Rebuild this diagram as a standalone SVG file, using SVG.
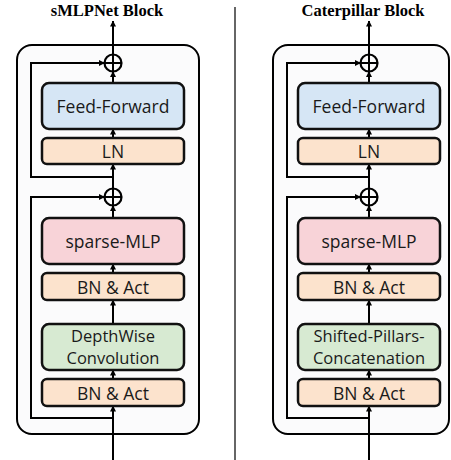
<svg xmlns="http://www.w3.org/2000/svg" width="451" height="460" viewBox="0 0 451 460">
<defs>
<marker id="ah" markerWidth="6" markerHeight="6" refX="5.5" refY="3" orient="auto" markerUnits="userSpaceOnUse">
<path d="M0,0 L6,3 L0,6 Z" fill="#000"/>
</marker>
<style>
.panel{fill:#fbfbfc;stroke:#000;stroke-width:2}
.box{stroke:#111;stroke-width:2.5}
.ff{fill:#d6e6f5}
.ln{fill:#fce3cd}
.mlp{fill:#f8d3d8}
.dw{fill:#d7ead2}
.t{font-family:"Open Sans","Noto Sans",sans-serif;font-size:17.5px;fill:#1a1a1a;text-anchor:middle;dominant-baseline:central}
.t2{font-size:16.5px}
.title{font-family:"Liberation Serif",serif;font-weight:bold;font-size:16.5px;fill:#000;text-anchor:middle}
.ln2{fill:none;stroke:#000;stroke-width:2}
.c{fill:none;stroke:#000;stroke-width:2.2}
</style>
</defs>
<rect width="451" height="460" fill="#fff"/>
<line x1="235" y1="7" x2="235" y2="460" stroke="#666" stroke-width="2"/>
<text class="title" x="107" y="15.5">sMLPNet Block</text>
<text class="title" x="363" y="15.5">Caterpillar Block</text>
<g id="panel-left"><rect class="panel" x="17" y="45" width="182" height="389" rx="15"/></g>
<g id="panel-right"><rect class="panel" x="273" y="45" width="176" height="389" rx="15"/></g>
<g id="connectors">
<line class="ln2" x1="113" y1="460" x2="113" y2="406" marker-end="url(#ah)"/>
<line class="ln2" x1="113" y1="379" x2="113" y2="370" marker-end="url(#ah)"/>
<line class="ln2" x1="113" y1="324" x2="113" y2="300" marker-end="url(#ah)"/>
<line class="ln2" x1="113" y1="273" x2="113" y2="264" marker-end="url(#ah)"/>
<line class="ln2" x1="113" y1="218" x2="113" y2="205.5" marker-end="url(#ah)"/>
<line class="ln2" x1="113" y1="188.5" x2="113" y2="164" marker-end="url(#ah)"/>
<line class="ln2" x1="113" y1="138" x2="113" y2="129" marker-end="url(#ah)"/>
<line class="ln2" x1="113" y1="83" x2="113" y2="71.5" marker-end="url(#ah)"/>
<line class="ln2" x1="113" y1="54.5" x2="113" y2="21" marker-end="url(#ah)"/>
<polyline class="ln2" points="113,177 31,177 31,63 104.5,63" marker-end="url(#ah)"/>
<polyline class="ln2" points="113,418 31,418 31,197 104.5,197" marker-end="url(#ah)"/>
<line class="ln2" x1="369" y1="460" x2="369" y2="406" marker-end="url(#ah)"/>
<line class="ln2" x1="369" y1="379" x2="369" y2="370" marker-end="url(#ah)"/>
<line class="ln2" x1="369" y1="324" x2="369" y2="300" marker-end="url(#ah)"/>
<line class="ln2" x1="369" y1="273" x2="369" y2="264" marker-end="url(#ah)"/>
<line class="ln2" x1="369" y1="218" x2="369" y2="205.5" marker-end="url(#ah)"/>
<line class="ln2" x1="369" y1="188.5" x2="369" y2="164" marker-end="url(#ah)"/>
<line class="ln2" x1="369" y1="138" x2="369" y2="129" marker-end="url(#ah)"/>
<line class="ln2" x1="369" y1="83" x2="369" y2="71.5" marker-end="url(#ah)"/>
<line class="ln2" x1="369" y1="54.5" x2="369" y2="21" marker-end="url(#ah)"/>
<polyline class="ln2" points="369,177 287,177 287,63 360.5,63" marker-end="url(#ah)"/>
<polyline class="ln2" points="369,418 287,418 287,197 360.5,197" marker-end="url(#ah)"/>
</g>
<g id="add1-left"><circle class="c" cx="113" cy="63" r="8.5"/><path class="ln2" d="M104.5,63 H121.5 M113,54.5 V71.5"/></g>
<g id="add2-left"><circle class="c" cx="113" cy="197" r="8.5"/><path class="ln2" d="M104.5,197 H121.5 M113,188.5 V205.5"/></g>
<g id="ff-left"><rect class="box ff" x="42" y="83" width="142" height="46" rx="7"/><text class="t" x="113" y="106">Feed-Forward</text></g>
<g id="ln-left"><rect class="box ln" x="42" y="138" width="142" height="26" rx="5"/><text class="t" x="113" y="151">LN</text></g>
<g id="smlp-left"><rect class="box mlp" x="42" y="218" width="142" height="46" rx="7"/><text class="t" x="113" y="241">sparse-MLP</text></g>
<g id="bn1-left"><rect class="box ln" x="42" y="273" width="142" height="27" rx="5"/><text class="t" x="113" y="286.5">BN &amp; Act</text></g>
<g id="dw-left"><rect class="box dw" x="42" y="324" width="142" height="46" rx="7"/><text class="t t2" x="113" y="335">DepthWise</text><text class="t t2" x="113" y="357.5">Convolution</text></g>
<g id="bn2-left"><rect class="box ln" x="42" y="379" width="142" height="27" rx="5"/><text class="t" x="113" y="392.5">BN &amp; Act</text></g>
<g id="add1-right"><circle class="c" cx="369" cy="63" r="8.5"/><path class="ln2" d="M360.5,63 H377.5 M369,54.5 V71.5"/></g>
<g id="add2-right"><circle class="c" cx="369" cy="197" r="8.5"/><path class="ln2" d="M360.5,197 H377.5 M369,188.5 V205.5"/></g>
<g id="ff-right"><rect class="box ff" x="298" y="83" width="142" height="46" rx="7"/><text class="t" x="369" y="106">Feed-Forward</text></g>
<g id="ln-right"><rect class="box ln" x="298" y="138" width="142" height="26" rx="5"/><text class="t" x="369" y="151">LN</text></g>
<g id="smlp-right"><rect class="box mlp" x="298" y="218" width="142" height="46" rx="7"/><text class="t" x="369" y="241">sparse-MLP</text></g>
<g id="bn1-right"><rect class="box ln" x="298" y="273" width="142" height="27" rx="5"/><text class="t" x="369" y="286.5">BN &amp; Act</text></g>
<g id="spc-right"><rect class="box dw" x="298" y="324" width="142" height="46" rx="7"/><text class="t t2" x="369" y="335">Shifted-Pillars-</text><text class="t t2" x="369" y="357.5">Concatenation</text></g>
<g id="bn2-right"><rect class="box ln" x="298" y="379" width="142" height="27" rx="5"/><text class="t" x="369" y="392.5">BN &amp; Act</text></g>
</svg>
